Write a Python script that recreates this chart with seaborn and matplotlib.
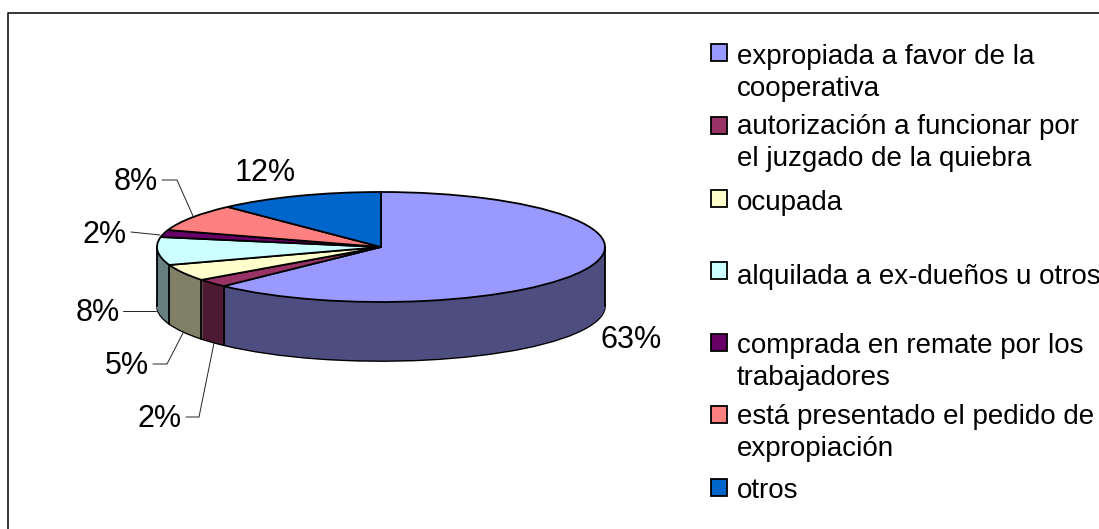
import numpy as np
import seaborn as sns
import matplotlib.pyplot as plt
from matplotlib.patches import Rectangle

categories = [
    ['expropiada a favor de la', 'cooperativa'],
    ['autorización a funcionar por', 'el juzgado de la quiebra'],
    ['ocupada'],
    ['alquilada a ex-dueños u otros'],
    ['comprada en remate por los', 'trabajadores'],
    ['está presentado el pedido de', 'expropiación'],
    ['otros'],
]
values = [62.4, 2.4, 4.9, 8.2, 2.1, 8.0, 12.0]
pct_labels = ['63%', '2%', '5%', '8%', '2%', '8%', '12%']
top_colors = ['#9999FF', '#993366', '#FFFFCC', '#CCFFFF', '#660066', '#FF8080', '#0066CC']
wall_colors = ['#4D4D80', '#4D1A33', '#808066', '#668080', '#330033', '#804040', '#003366']

sns.set_theme(style='white')
plt.rcParams['font.family'] = ['Liberation Sans', 'DejaVu Sans']

W, H = 1099, 529
cx, cy, rx, ry, depth = 381, 247, 224, 55, 59
squash = rx / ry

fig = plt.figure(figsize=(W / 100, H / 100), dpi=100, facecolor='white')
ax = fig.add_axes([0, 0, 1, 1])

# wall of the pie: stacked pies from the bottom up, then the top face
pie_args = dict(startangle=90, counterclock=False, radius=rx)
ax.pie(values, colors=wall_colors, center=(cx, -(cy + depth) * squash),
       wedgeprops={'edgecolor': 'black', 'linewidth': 1.3}, **pie_args)
for d in np.arange(depth - 0.5, 0, -0.5):
    ax.pie(values, colors=wall_colors, center=(cx, -(cy + d) * squash),
           wedgeprops={'linewidth': 0}, **pie_args)
ax.pie(values, colors=top_colors, center=(cx, -cy * squash),
       wedgeprops={'edgecolor': 'black', 'linewidth': 1.3}, **pie_args)
ax.set_aspect('auto')
ax.set_xlim(0, W)
ax.set_ylim(-H * squash, 0)
ax.axis('off')

# overlay in pixel coordinates for frame, leaders, labels and key
ov = fig.add_axes([0, 0, 1, 1])
ov.set_xlim(0, W)
ov.set_ylim(H, 0)
ov.axis('off')
ov.patch.set_alpha(0)

ov.plot([7.5, 7.5, W], [H, 12.5, 12.5], color='black', lw=1.1, clip_on=False)

# edges of the wall: separators between the front slices and the two sides
ends = np.cumsum(values) / np.sum(values) * 2 * np.pi
for a in ends:
    if np.pi / 2 < a < 3 * np.pi / 2:
        x = cx + rx * np.sin(a)
        y = cy - ry * np.cos(a)
        ov.plot([x, x], [y, y + depth], color='black', lw=1.3)
for x in [cx - rx, cx + rx]:
    ov.plot([x, x], [cy, cy + depth], color='black', lw=1.3)

leaders = [
    [(162, 180), (177, 180), (193, 216)],
    [(131, 232), (160, 235)],
    [(123, 311), (156, 311)],
    [(153, 364), (167, 364), (183, 333)],
    [(186, 417), (199, 417), (214, 343)],
]
for pts in leaders:
    xs, ys = zip(*pts)
    ov.plot(xs, ys, color='#222222', lw=0.7)

label_pos = [(631, 340), (160, 419), (127, 366), (98, 313), (105, 235), (136, 182), (265, 173)]
for txt, (x, y) in zip(pct_labels, label_pos):
    ov.text(x, y, txt, ha='center', va='center', fontsize=22, color='black')

swatch_y = [44, 117, 190, 262, 334, 406, 479]
baselines = [64.5, 134.5, 209.5, 283.5, 353, 424.5, 498.5]
for lines, col, sy, by in zip(categories, top_colors, swatch_y, baselines):
    ov.add_patch(Rectangle((710.5, sy), 16.5, 16.5, facecolor=col, edgecolor='black', lw=1.3))
    for i, line in enumerate(lines):
        ov.text(737, by + i * 32, line, ha='left', va='baseline', fontsize=20,
                color='black', clip_on=True)

plt.savefig('out.png', dpi=100)
plt.close()
